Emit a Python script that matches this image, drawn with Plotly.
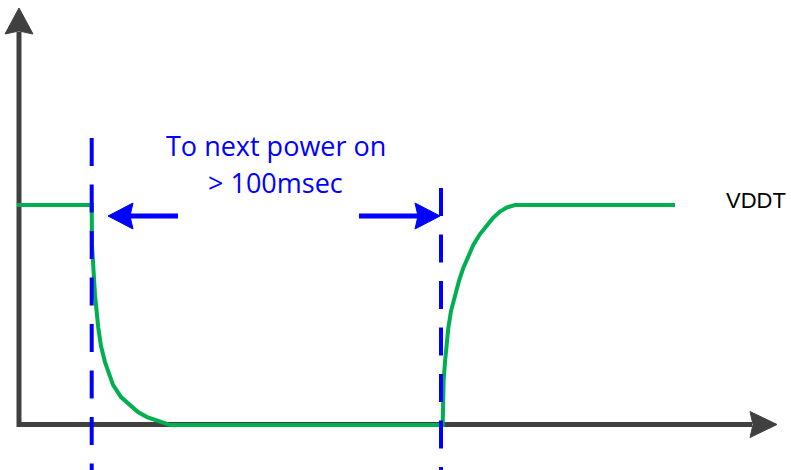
import plotly.graph_objects as go

# ---- data (time in arbitrary units, voltage normalised to VDDT = 1) ----
t_signal = [17, 91.7, 92.0, 92.7, 95.0, 98.3, 101.0, 105.0, 109.0, 113.0, 121.0, 130.0, 138.0,
            147.0, 158.0, 170.0,
            442.7, 443.1, 443.6, 445.0, 446.5, 448.3, 451.0, 455.0, 459.0, 463.3, 468.0, 473.3,
            480.0, 486.7, 493.0, 500.0, 507.0, 515.0, 675.0]
v_signal = [1.0, 1.0, 0.818, 0.741, 0.591, 0.441, 0.359, 0.286, 0.227, 0.182, 0.127, 0.091, 0.059,
            0.036, 0.018, 0.0,
            0.0, 0.118, 0.2, 0.286, 0.368, 0.441, 0.518, 0.591, 0.655, 0.714, 0.768, 0.818,
            0.868, 0.909, 0.941, 0.970, 0.989, 1.0, 1.0]
t_marker = [91.7, 441.0]            # power-off instant, next power-on instant
signal_label = "VDDT"
interval_label = ["To next power on", "> 100msec"]

# ---- layout helpers (pixel -> data) ----
W, H = 791, 470
Y0_PX, PX_PER_V = 425.0, 220.0


def vy(py):
    return (Y0_PX - py) / PX_PER_V


AXIS_C = "#404040"
GREEN = "#00B050"
BLUE = "#0000FF"

fig = go.Figure()
fig.add_trace(go.Scatter(x=t_signal, y=v_signal, mode="lines",
                         line=dict(color=GREEN, width=4), hoverinfo="skip",
                         showlegend=False))

shapes = []
# axes
shapes.append(dict(type="line", xref="x", yref="y", x0=17, x1=752, y0=vy(424.5), y1=vy(424.5),
                   line=dict(color=AXIS_C, width=5), layer="below"))
shapes.append(dict(type="line", xref="x", yref="y", x0=19, x1=19, y0=vy(427), y1=vy(32),
                   line=dict(color=AXIS_C, width=5), layer="below"))


def tri(p):
    return "M " + " L ".join(f"{x},{vy(y)}" for x, y in p) + " Z"


shapes.append(dict(type="path", xref="x", yref="y",
                   path=tri([(777, 424.5), (750, 411.5), (753, 424.5), (750, 437.5)]),
                   fillcolor=AXIS_C, line=dict(color=AXIS_C, width=1), layer="below"))
shapes.append(dict(type="path", xref="x", yref="y",
                   path=tri([(19, 8), (5, 34), (19, 31), (33, 34)]),
                   fillcolor=AXIS_C, line=dict(color=AXIS_C, width=1), layer="below"))

# dashed markers
for tx, top in zip(t_marker, [138, 188]):
    shapes.append(dict(type="line", xref="x", yref="y", x0=tx, x1=tx, y0=vy(top), y1=vy(H + 20),
                       line=dict(color=BLUE, width=4, dash="28px,18.5px"), layer="above"))

# interval arrows
AY = 216
shapes.append(dict(type="line", xref="x", yref="y", x0=178, x1=128, y0=vy(AY), y1=vy(AY),
                   line=dict(color=BLUE, width=5), layer="above"))
shapes.append(dict(type="path", xref="x", yref="y",
                   path=tri([(108, AY), (133, AY - 13), (130, AY), (133, AY + 13)]),
                   fillcolor=BLUE, line=dict(color=BLUE, width=1), layer="above"))
shapes.append(dict(type="line", xref="x", yref="y", x0=359, x1=420, y0=vy(AY), y1=vy(AY),
                   line=dict(color=BLUE, width=5), layer="above"))
shapes.append(dict(type="path", xref="x", yref="y",
                   path=tri([(440, AY), (415, AY - 13), (418, AY), (415, AY + 13)]),
                   fillcolor=BLUE, line=dict(color=BLUE, width=1), layer="above"))

FONT = "Open Sans, Liberation Sans, Arial, sans-serif"
FONT2 = "Liberation Sans, Arial, sans-serif"
annotations = [
    dict(x=276, y=vy(145.5), xref="x", yref="y", text=interval_label[0], showarrow=False,
         xanchor="center", yanchor="middle", font=dict(family=FONT, size=27, color=BLUE)),
    dict(x=275, y=vy(182), xref="x", yref="y", text=interval_label[1], showarrow=False,
         xanchor="center", yanchor="middle", font=dict(family=FONT, size=27, color=BLUE)),
    dict(x=724, y=vy(200.5), xref="x", yref="y", text=signal_label, showarrow=False,
         xanchor="left", yanchor="middle", font=dict(family=FONT2, size=22, color="#000000")),
]

fig.update_layout(
    width=W, height=H, autosize=False,
    margin=dict(l=0, r=0, t=0, b=0, pad=0),
    paper_bgcolor="white", plot_bgcolor="white",
    xaxis=dict(range=[0, W], visible=False, fixedrange=True),
    yaxis=dict(range=[vy(H), vy(0)], visible=False, fixedrange=True),
    shapes=shapes, annotations=annotations, showlegend=False,
)

fig.write_html("out.html", config={"displayModeBar": False, "staticPlot": True},
               post_script="document.body.style.margin='0px';document.body.style.overflow='hidden';")
